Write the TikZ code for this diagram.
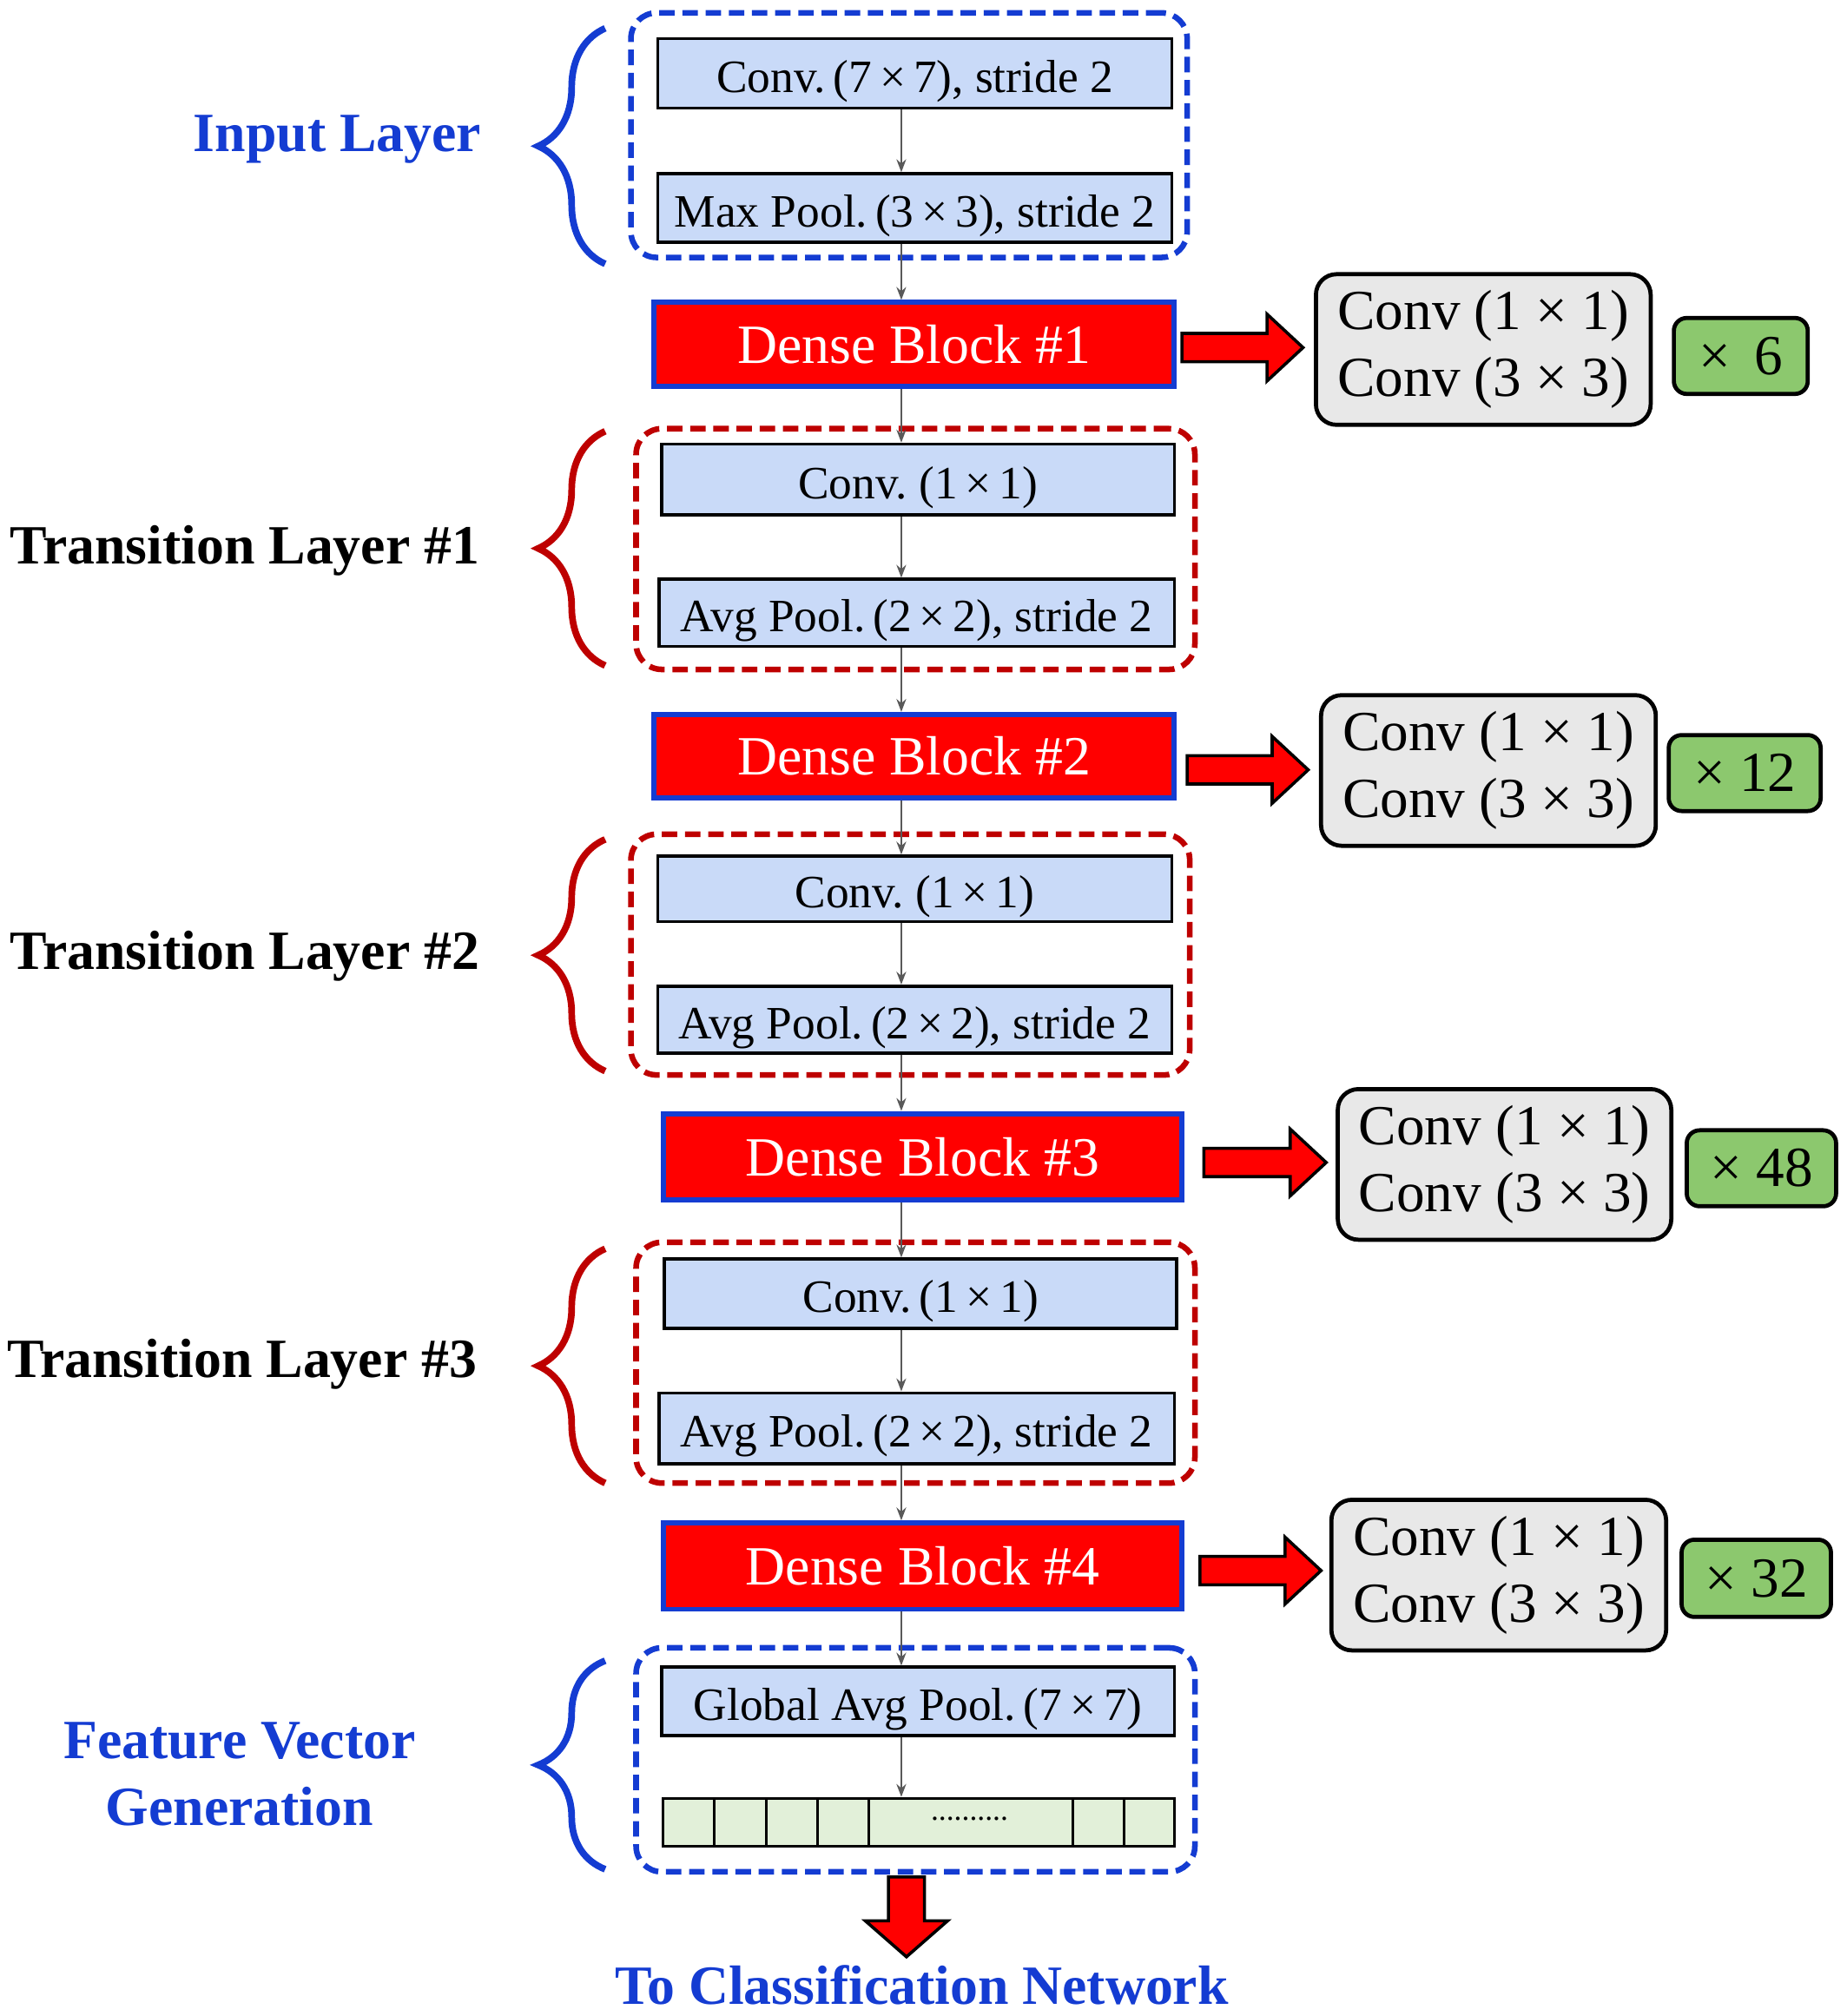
\documentclass[tikz,border=0pt]{standalone}
\usepackage{fontspec}
\setmainfont{Liberation Serif}
\usetikzlibrary{fit,decorations.pathreplacing,arrows.meta}
\definecolor{lblue}{RGB}{201,218,248}
\definecolor{bblue}{RGB}{20,60,210}
\definecolor{dred}{RGB}{190,0,0}
\definecolor{lgray}{RGB}{232,232,232}
\definecolor{lgreen}{RGB}{140,200,110}
\definecolor{cellg}{RGB}{226,240,217}
\begin{document}
\begin{tikzpicture}[x=0.5pt,y=-0.5pt,
 box/.style={draw=black,line width=1.2pt,fill=lblue,inner sep=0pt},
 bt/.style={font=\fontsize{18}{20}\selectfont,inner sep=0pt},
 dense/.style={draw=bblue,line width=2pt,fill=red,inner sep=0pt},
 dt/.style={text=white,font=\fontsize{21.5}{24}\selectfont,inner sep=0pt},
 gbox/.style={draw=black,line width=1.6pt,fill=lgray,rounded corners=8pt,inner sep=0pt},
 gt/.style={font=\fontsize{22}{26}\selectfont,align=left,inner sep=0pt},
 grn/.style={draw=black,line width=1.6pt,fill=lgreen,rounded corners=5pt,inner sep=0pt},
 dbl/.style={draw=bblue,dashed,dash pattern=on 6pt off 3pt,line width=2.2pt,rounded corners=10pt,inner sep=0pt},
 drd/.style={draw=dred,dashed,dash pattern=on 6pt off 3pt,line width=2.2pt,rounded corners=10pt,inner sep=0pt},
 sa/.style={draw=black!65,line width=0.8pt,-{Stealth[length=5pt]}},
 brc/.style={decorate,decoration={brace,amplitude=26pt},line width=2.6pt},
 lab/.style={font=\bfseries\fontsize{21.5}{26}\selectfont,align=center},
 fat/.style={fill=red,draw=black,line width=1.2pt}]
\useasboundingbox (0,0) rectangle (1434,1566);
% Input layer
\node[dbl,fit={(490,10)(922,200)}] (in) {};
\node[box,fit={(511,30)(910,84)}] (c1) {};
\node[bt] (c1t) at ([yshift=-3pt]c1.center) {Conv.\,(7\,×\,7), stride 2};
\node[box,fit={(511,135)(910,188)}] (mp) {};
\node[bt] (mpt) at ([yshift=-3pt]mp.center) {Max Pool.\,(3\,×\,3), stride 2};
\draw[brc,bblue] (470,205) -- (470,22);
\node[lab,text=bblue] (lin) at (262,108) {Input Layer};
% Dense 1
\node[dense,fit={(508,235)(912,300)}] (d1) {};
\node[dt] (d1t) at (d1.center) {Dense Block \#1};
\node[gbox,fit={(1022,213)(1282,330)}] (g1) {};
\node[gt] (g1t) at (g1) {Conv (1 × 1)\\Conv (3 × 3)};
\node[grn,fit={(1300,247)(1404,306)}] (n1) {};
\node[gt] (n1t) at (n1) {× \,6};
% T1
\node[drd,fit={(494,333)(928,520)}] (t1) {};
\node[box,fit={(514,345)(912,400)}] (t1c) {};
\node[bt] (t1ct) at ([yshift=-3pt]t1c.center) {Conv.\ (1\,×\,1)};
\node[box,fit={(512,450)(912,502)}] (t1a) {};
\node[bt] (t1at) at ([yshift=-3pt]t1a.center) {Avg Pool.\,(2\,×\,2), stride 2};
\draw[brc,dred] (470,517) -- (470,335);
\node[lab] (lt1) at (190,428) {Transition Layer \#1};
% Dense 2
\node[dense,fit={(508,555)(912,620)}] (d2) {};
\node[dt] (d2t) at (d2.center) {Dense Block \#2};
\node[gbox,fit={(1026,540)(1286,657)}] (g2) {};
\node[gt] (g2t) at (g2) {Conv (1 × 1)\\Conv (3 × 3)};
\node[grn,fit={(1296,571)(1414,630)}] (n2) {};
\node[gt] (n2t) at (n2) {× 12};
% T2
\node[drd,fit={(490,648)(924,835)}] (t2) {};
\node[box,fit={(511,665)(910,716)}] (t2c) {};
\node[bt] (t2ct) at ([yshift=-3pt]t2c.center) {Conv.\ (1\,×\,1)};
\node[box,fit={(511,766)(910,818)}] (t2a) {};
\node[bt] (t2at) at ([yshift=-3pt]t2a.center) {Avg Pool.\,(2\,×\,2), stride 2};
\draw[brc,dred] (470,832) -- (470,652);
\node[lab] (lt2) at (190,743) {Transition Layer \#2};
% Dense 3
\node[dense,fit={(515,865)(918,932)}] (d3) {};
\node[dt] (d3t) at (d3.center) {Dense Block \#3};
\node[gbox,fit={(1039,846)(1298,963)}] (g3) {};
\node[gt] (g3t) at (g3) {Conv (1 × 1)\\Conv (3 × 3)};
\node[grn,fit={(1310,878)(1426,937)}] (n3) {};
\node[gt] (n3t) at (n3) {× 48};
% T3
\node[drd,fit={(494,965)(928,1152)}] (t3) {};
\node[box,fit={(516,978)(914,1032)}] (t3c) {};
\node[bt] (t3ct) at ([yshift=-3pt]t3c.center) {Conv.\,(1\,×\,1)};
\node[box,fit={(512,1082)(912,1137)}] (t3a) {};
\node[bt] (t3at) at ([yshift=-3pt]t3a.center) {Avg Pool.\,(2\,×\,2), stride 2};
\draw[brc,dred] (470,1152) -- (470,970);
\node[lab] (lt3) at (188,1060) {Transition Layer \#3};
% Dense 4
\node[dense,fit={(515,1183)(918,1250)}] (d4) {};
\node[dt] (d4t) at (d4.center) {Dense Block \#4};
\node[gbox,fit={(1034,1165)(1294,1282)}] (g4) {};
\node[gt] (g4t) at (g4) {Conv (1 × 1)\\Conv (3 × 3)};
\node[grn,fit={(1306,1196)(1422,1256)}] (n4) {};
\node[gt] (n4t) at (n4) {× 32};
% Feature
\node[dbl,fit={(494,1280)(928,1454)}] (fv) {};
\node[box,fit={(514,1295)(912,1348)}] (gp) {};
\node[bt] (gpt) at ([yshift=-3pt]gp.center) {Global Avg Pool.\,(7\,×\,7)};
\node[draw=black,line width=1.2pt,fill=cellg,inner sep=0pt,fit={(515,1397)(912,1434)}] (vec) {};
\foreach \x in {555,595,635,675,833,873} \draw[line width=1pt] (\x,1397) -- (\x,1434);
\node[font=\fontsize{12}{14}\selectfont] (dots) at (753,1413) {..........};
\draw[brc,bblue] (470,1452) -- (470,1290);
\node[lab,text=bblue] (lfv) at (186,1378) {Feature Vector\\Generation};
% small arrows
\draw[sa] (c1.south -| 700,0) -- (mp.north -| 700,0);
\draw[sa] (mp.south -| 700,0) -- (d1.north -| 700,0);
\draw[sa] (d1.south -| 700,0) -- (t1c.north -| 700,0);
\draw[sa] (t1c.south -| 700,0) -- (t1a.north -| 700,0);
\draw[sa] (t1a.south -| 700,0) -- (d2.north -| 700,0);
\draw[sa] (d2.south -| 700,0) -- (t2c.north -| 700,0);
\draw[sa] (t2c.south -| 700,0) -- (t2a.north -| 700,0);
\draw[sa] (t2a.south -| 700,0) -- (d3.north -| 700,0);
\draw[sa] (d3.south -| 700,0) -- (t3c.north -| 700,0);
\draw[sa] (t3c.south -| 700,0) -- (t3a.north -| 700,0);
\draw[sa] (t3a.south -| 700,0) -- (d4.north -| 700,0);
\draw[sa] (d4.south -| 700,0) -- (gp.north -| 700,0);
\draw[sa] (gp.south -| 700,0) -- (vec.north -| 700,0);
% fat arrows
\foreach \a/\b/\y in {918/1012/270, 922/1016/598, 935/1030/903, 932/1026/1220}
  \draw[fat] (\a,\y-11) -- (\b-28,\y-11) -- (\b-28,\y-26) -- (\b,\y) -- (\b-28,\y+26) -- (\b-28,\y+11) -- (\a,\y+11) -- cycle;
\draw[fat] (690,1458) -- (718,1458) -- (718,1492) -- (736,1492) -- (704,1520) -- (672,1492) -- (690,1492) -- cycle;
\node[lab,text=bblue] (cls) at (716,1542) {To Classification Network};
\end{tikzpicture}
\end{document}
